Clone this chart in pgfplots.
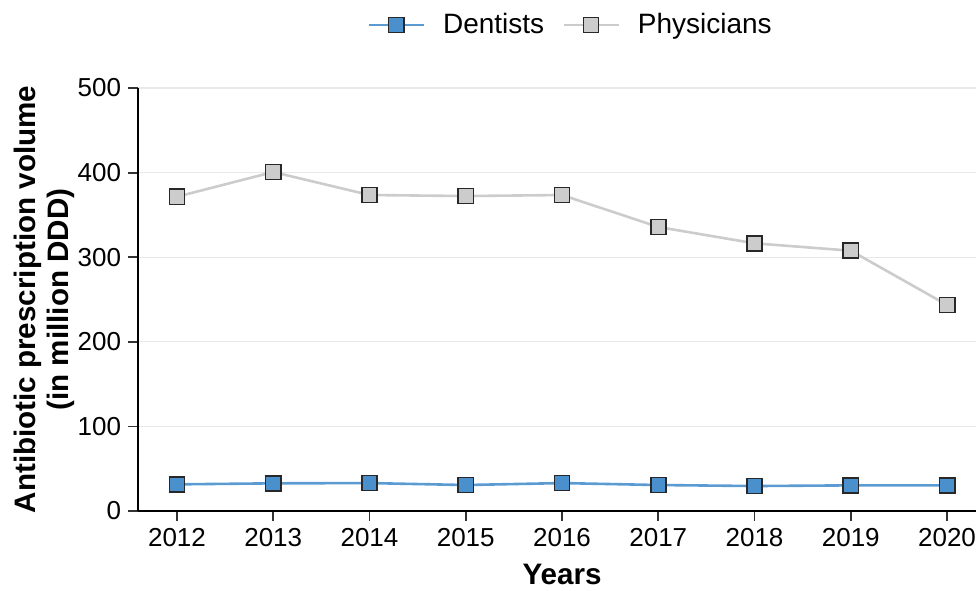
\documentclass[border=0pt]{standalone}
\usepackage{fontspec}
\setmainfont{Liberation Sans}
\usepackage{pgfplots}
\pgfplotsset{compat=1.18}
\definecolor{dentblue}{RGB}{74,144,205}
\definecolor{dentline}{RGB}{92,155,210}
\definecolor{physgray}{RGB}{204,204,204}
\definecolor{markedge}{RGB}{40,40,40}
\definecolor{gridgray}{RGB}{232,232,232}
\begin{document}
\begin{tikzpicture}
\begin{axis}[
  scale only axis,
  width=419pt, height=211.5pt,
  xmin=2011.595, xmax=2020.3,
  ymin=0, ymax=500,
  axis x line*=bottom, axis y line*=left,
  axis line style={line width=1pt, black},
  xtick={2012,...,2020},
  ytick={0,100,...,500},
  xticklabel style={/pgf/number format/1000 sep={}},
  /pgf/number format/assume math mode=true,
  ticklabel style={font=\fontsize{13}{15}\selectfont},
  tick align=outside,
  major tick length=5pt,
  tick style={line width=0.9pt, black!80},
  ymajorgrids,
  major grid style={line width=0.6pt, gridgray},
  every axis x label/.style={at={(axis description cs:0.506,-0.150)}, anchor=center},
  every axis y label/.style={at={(axis description cs:-0.112,0.5)}, rotate=90, anchor=center, align=center},
  xlabel={Years},
  ylabel={Antibiotic prescription volume\\(in million DDD)},
  label style={font=\fontsize{14.8}{16.5}\selectfont\bfseries},
  legend columns=2,
  legend style={at={(0.515,1.149)}, anchor=center, draw=none, fill=none,
    font=\fontsize{14}{16}\selectfont,
    nodes={inner sep=0pt},
    /tikz/every odd column/.append style={column sep=9pt},
    /tikz/every even column/.append style={column sep=9pt}},
  legend image code/.code={\draw[mark repeat=2, mark phase=2, #1] plot coordinates {(0pt,0pt) (13.75pt,0pt) (27.5pt,0pt)};},
  clip=false,
]
\addplot[color=dentline, line width=1.3pt, mark=square*, mark size=3.8pt,
  mark options={fill=dentblue, draw=markedge, line width=0.8pt}]
  coordinates {(2012,31.5) (2013,32.7) (2014,33) (2015,30.7) (2016,33) (2017,30.7) (2018,29.5) (2019,30.3) (2020,30.3)};
\addlegendentry{Dentists}
\addplot[color=physgray, line width=1.3pt, mark=square*, mark size=3.8pt,
  mark options={fill=physgray, draw=markedge, line width=0.8pt}]
  coordinates {(2012,371.5) (2013,400.7) (2014,373.5) (2015,372.3) (2016,373.5) (2017,335.7) (2018,316.4) (2019,307.7) (2020,243.5)};
\addlegendentry{Physicians}
\end{axis}
\pgfresetboundingbox
\path[use as bounding box] (-69pt,-39.5pt) rectangle (419pt,255.5pt);
\end{tikzpicture}
\end{document}
